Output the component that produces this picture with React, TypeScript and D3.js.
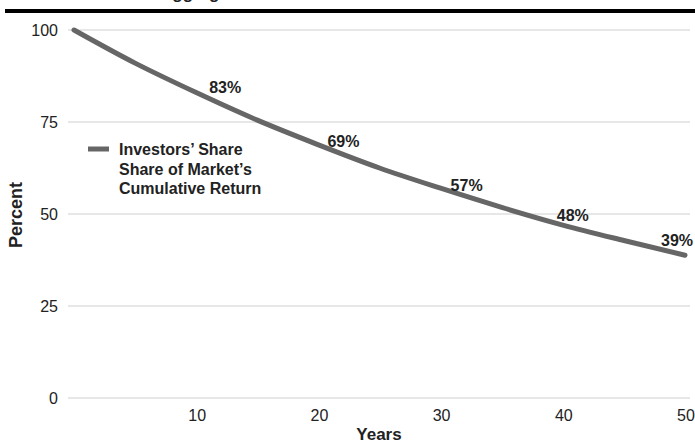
import React from "react";
import * as d3 from "d3";

const years = [0, 5, 10, 15, 20, 25, 30, 35, 40, 45, 50];
const shareValues = [100, 91, 83, 75.5, 68.8, 62.5, 57, 51.8, 47, 42.8, 38.8];
const labelYears = [10, 20, 30, 40, 50];
const labelTexts = ["83%", "69%", "57%", "48%", "39%"];
const yTicks = [0, 25, 50, 75, 100];
const xTicks = [10, 20, 30, 40, 50];
const legendLines = ["Investors\u2019 Share", "Share of Market\u2019s", "Cumulative Return"];
const titleText = "Aggregate Investor Return";

const W = 695;
const H = 444;
const FONT = "'Liberation Sans', Arial, Helvetica, sans-serif";
const labelOffsets: [number, number][] = [
  [29, -5.5],
  [25, -4],
  [26, -3],
  [10, -10],
  [-8, -15.5],
];

export default function App() {
  const x = d3.scaleLinear().domain([0, 50]).range([74, 685]);
  const y = d3.scaleLinear().domain([0, 100]).range([398, 30]);
  const pts = years.map((yr, i) => [yr, shareValues[i]] as [number, number]);
  const line = d3
    .line<[number, number]>()
    .x((d) => x(d[0]))
    .y((d) => y(d[1]))
    .curve(d3.curveMonotoneX);
  const valueAt = (yr: number) => shareValues[years.indexOf(yr)];

  return (
    <svg
      width={W}
      height={H}
      style={{ position: "absolute", left: 0, top: 0, background: "#fff" }}
      fontFamily={FONT}
    >
      <text x={160} y={-1.5} fontSize={17} fontWeight="bold" fill="#222">
        {titleText}
      </text>
      <rect x={5} y={9} width={W - 5} height={4} fill="#000" />
      {yTicks.map((t) => (
        <g key={t}>
          <line x1={68} x2={690} y1={y(t)} y2={y(t)} stroke="#cfcfcf" strokeWidth={1.2} />
          <text x={58} y={y(t) + 5.5} textAnchor="end" fontSize={16} fill="#222">
            {t}
          </text>
        </g>
      ))}
      {xTicks.map((t) => (
        <text key={t} x={x(t) + 1} y={421} textAnchor="middle" fontSize={16} fill="#222">
          {t}
        </text>
      ))}
      <text x={379} y={440} textAnchor="middle" fontSize={17} fontWeight="bold" fill="#222">
        Years
      </text>
      <text
        transform="translate(22,215) rotate(-90)"
        textAnchor="middle"
        fontSize={18}
        fontWeight="bold"
        fill="#222"
      >
        Percent
      </text>
      <path
        d={line(pts) || ""}
        fill="none"
        stroke="#666"
        strokeWidth={5}
        strokeLinecap="round"
      />
      {labelYears.map((yr, i) => (
        <text
          key={yr}
          x={x(yr) + labelOffsets[i][0]}
          y={y(valueAt(yr)) + labelOffsets[i][1] + 6}
          textAnchor="middle"
          fontSize={16}
          fontWeight="bold"
          fill="#222"
        >
          {labelTexts[i]}
        </text>
      ))}
      <line x1={88} x2={109} y1={149} y2={149} stroke="#666" strokeWidth={5} />
      {legendLines.map((l, i) => (
        <text key={i} x={119} y={155 + i * 19.5} fontSize={16} fontWeight="bold" fill="#222">
          {l}
        </text>
      ))}
    </svg>
  );
}
